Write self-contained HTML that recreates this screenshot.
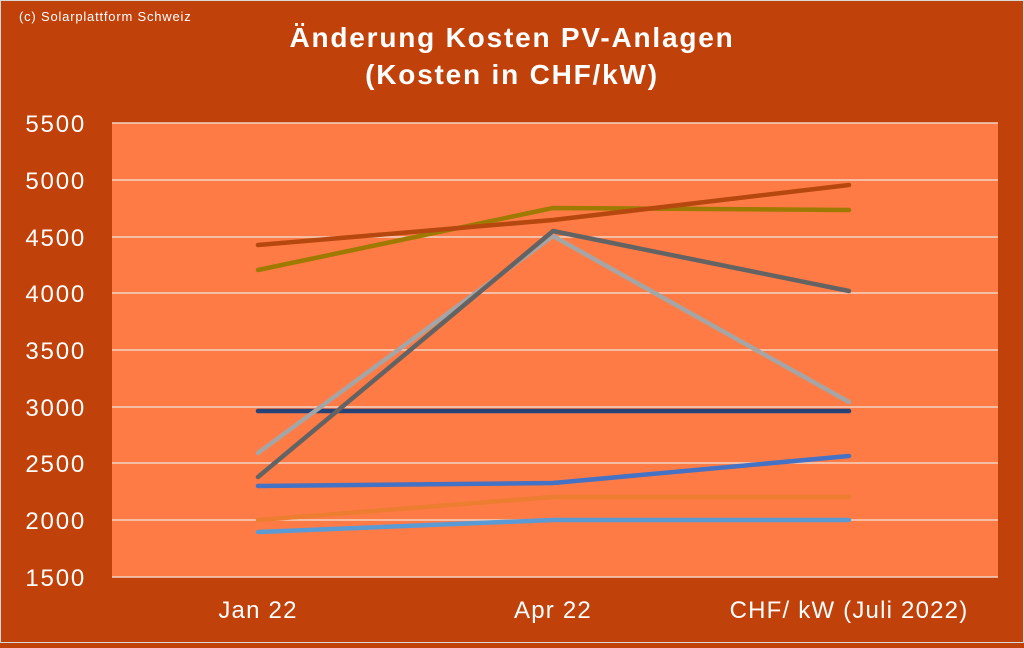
<!DOCTYPE html>
<html><head><meta charset="utf-8"><style>
html,body{margin:0;padding:0;}
body{width:1024px;height:643px;background:#C1410A;overflow:hidden;font-family:"Liberation Sans",sans-serif;}
</style></head><body>
<svg width="1024" height="643" xmlns="http://www.w3.org/2000/svg" font-family="Liberation Sans, sans-serif">
<rect x="0" y="0" width="1024" height="643" fill="#C1410A" stroke="#d9d9d9" stroke-width="2"/>
<text x="19" y="21" font-size="13" fill="#fff" letter-spacing="0.8">(c) Solarplattform Schweiz</text>
<text x="512" y="47" font-size="28" font-weight="bold" fill="#fff" text-anchor="middle" letter-spacing="1.8">Änderung Kosten PV-Anlagen</text>
<text x="512" y="84" font-size="28" font-weight="bold" fill="#fff" text-anchor="middle" letter-spacing="1.8">(Kosten in CHF/kW)</text>
<rect x="112" y="123" width="886" height="454" fill="#FF7B45"/>
<g stroke="#F2D3C4" stroke-width="1.5">
<line x1="112" x2="998" y1="123" y2="123"/><line x1="112" x2="998" y1="180" y2="180"/>
<line x1="112" x2="998" y1="237" y2="237"/><line x1="112" x2="998" y1="293" y2="293"/>
<line x1="112" x2="998" y1="350" y2="350"/><line x1="112" x2="998" y1="407" y2="407"/>
<line x1="112" x2="998" y1="463" y2="463"/><line x1="112" x2="998" y1="520" y2="520"/>
<line x1="112" x2="998" y1="577" y2="577"/>
</g>
<g font-size="24" fill="#fff" text-anchor="end" letter-spacing="1.8">
<text x="86" y="132">5500</text><text x="86" y="189">5000</text><text x="86" y="246">4500</text>
<text x="86" y="302">4000</text><text x="86" y="359">3500</text><text x="86" y="416">3000</text>
<text x="86" y="472">2500</text><text x="86" y="529">2000</text><text x="86" y="586">1500</text>
</g>
<g font-size="24" fill="#fff" text-anchor="middle" letter-spacing="1.2">
<text x="258" y="618">Jan 22</text><text x="553" y="618">Apr 22</text><text x="849" y="618">CHF/ kW (Juli 2022)</text>
</g>
<g fill="none" stroke-width="4.5" stroke-linecap="round" stroke-linejoin="round">
<polyline stroke="#5B9BD5" points="258,532 553,520 849,520"/>
<polyline stroke="#ED7D31" points="258,520 553,497 849,497"/>
<polyline stroke="#4472C4" points="258,486 553,483 849,456"/>
<polyline stroke="#264478" points="258,411 553,411 849,411"/>
<polyline stroke="#A5A5A5" points="258,453 553,236 849,402"/>
<polyline stroke="#636363" points="258,477 553,231 849,291"/>
<polyline stroke="#9E7A00" points="258,270 553,208 849,210"/>
<polyline stroke="#B5470F" points="258,245 553,220 849,185"/>
</g>
</svg>
</body></html>
